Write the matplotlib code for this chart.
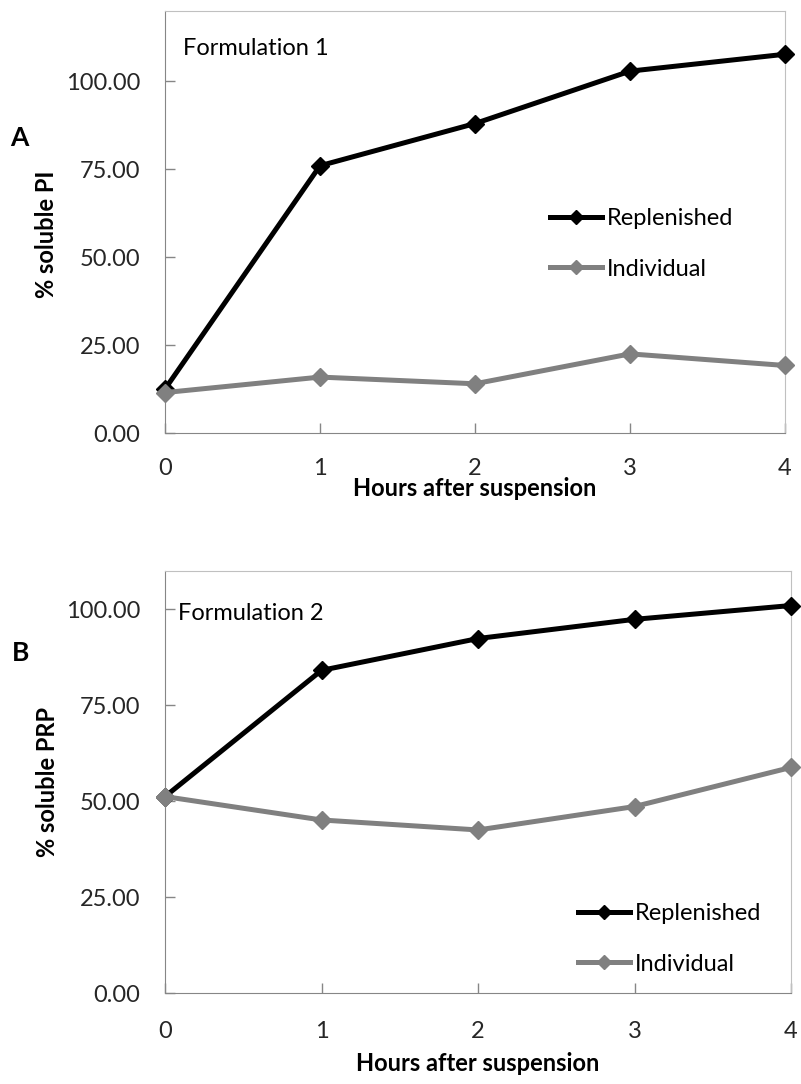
import matplotlib.pyplot as plt

hours = [0, 1, 2, 3, 4]

# formulation 1 (% soluble PI)
f1_replenished = [12.5, 76.0, 88.0, 102.9, 107.7]
f1_individual = [11.5, 15.9, 14.0, 22.5, 19.2]

# formulation 2 (% soluble PRP)
f2_replenished = [51.2, 84.1, 92.4, 97.4, 101.0]
f2_individual = [51.2, 45.1, 42.5, 48.6, 58.8]

yticks = [0, 25, 50, 75, 100]

plt.rcParams["font.family"] = ["Lato", "DejaVu Sans"]

W, H = 801, 1084
FS = 17
fig = plt.figure(figsize=(W / 100, H / 100), dpi=100)


def px_axes(left, top, right, bottom):
    return fig.add_axes([left / W, 1 - bottom / H, (right - left) / W, (bottom - top) / H])


def style_axes(ax, ymax, xpad):
    ax.set_xlim(0, 4)
    ax.set_ylim(0, ymax)
    ax.set_xticks(hours)
    ax.set_yticks(yticks)
    ax.set_yticklabels([f"{v:.2f}" for v in yticks])
    ax.tick_params(direction="in", length=7, width=1, color="#868686",
                   labelsize=FS, labelcolor="#262626")
    ax.tick_params(axis="x", pad=xpad)
    ax.tick_params(axis="y", pad=18)
    ax.spines["left"].set_color("#868686")
    ax.spines["bottom"].set_color("#868686")
    ax.spines["top"].set_color("#c0c0c0")
    ax.spines["right"].set_color("#c0c0c0")
    ax.set_xlabel("Hours after suspension", fontsize=FS, fontweight="bold")


def draw(ax, rep, ind):
    ax.plot(hours, rep, color="black", lw=3.6, marker="D", ms=9,
            clip_on=False, zorder=3, label="Replenished")
    ax.plot(hours, ind, color="#808080", lw=3.6, marker="D", ms=9,
            clip_on=False, zorder=4, label="Individual")


def add_legend(ax, x, y):
    ax.legend(loc="upper left", bbox_to_anchor=(x / W, 1 - y / H), bbox_transform=fig.transFigure,
              frameon=False, fontsize=FS, handlelength=2.2, handletextpad=0.2,
              labelspacing=1.25, borderpad=0, borderaxespad=0, markerscale=0.8)


# panel A
ax1 = px_axes(165, 11, 785, 433)
draw(ax1, f1_replenished, f1_individual)
style_axes(ax1, 120, 18)
ax1.set_ylabel("% soluble PI", fontsize=FS, fontweight="bold")
ax1.yaxis.set_label_coords(-0.172, 0.47)
ax1.xaxis.set_label_coords(0.5, -0.105)
ax1.text(0.029, 0.91, "Formulation 1", transform=ax1.transAxes, fontsize=FS, va="center")
add_legend(ax1, 550, 208)
fig.text(10 / W, 1 - 138 / H, "A", fontsize=19, fontweight="bold", va="center")

# panel B
ax2 = px_axes(165, 571, 791, 993)
draw(ax2, f2_replenished, f2_individual)
style_axes(ax2, 110, 20)
ax2.set_ylabel("% soluble PRP", fontsize=FS, fontweight="bold")
ax2.yaxis.set_label_coords(-0.170, 0.50)
ax2.xaxis.set_label_coords(0.5, -0.14)
ax2.text(0.021, 0.90, "Formulation 2", transform=ax2.transAxes, fontsize=FS, va="center")
add_legend(ax2, 578, 903)
fig.text(12 / W, 1 - 653 / H, "B", fontsize=19, fontweight="bold", va="center")

fig.savefig("out.png", dpi=100)
plt.close()
